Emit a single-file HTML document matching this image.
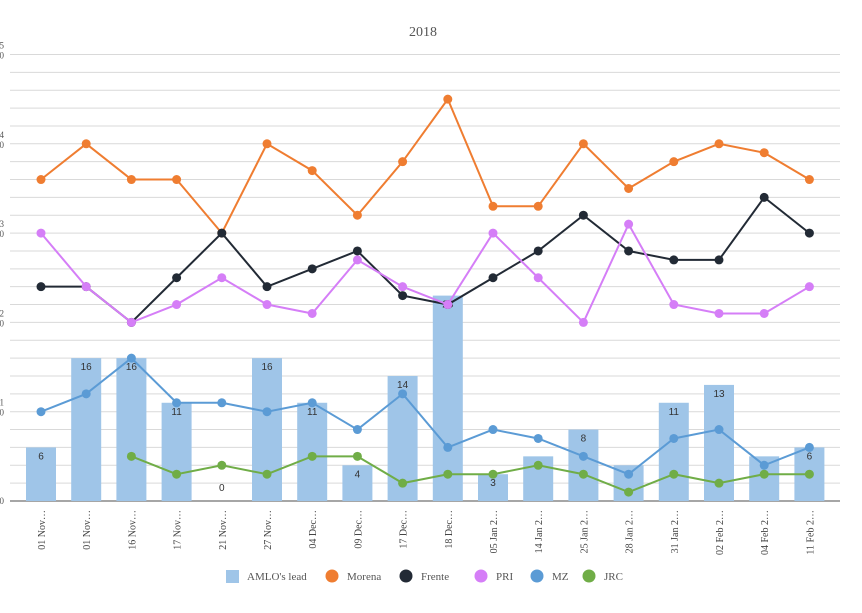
<!DOCTYPE html>
<html><head><meta charset="utf-8"><style>
body{margin:0;background:#fff;}
svg text{font-family:"Liberation Serif",serif;}
svg text.sans{font-family:"Liberation Sans",sans-serif;}
</style></head><body>
<svg id="chart" width="862" height="608" xmlns="http://www.w3.org/2000/svg">
<text x="423" y="36" text-anchor="middle" font-size="14" fill="#555">2018</text>
<g id="grid"></g><g id="bars"></g><g id="lines"></g><g id="xl"></g><g id="legend"></g>
</svg>
<script>
const categories=["01 Nov…","01 Nov…","16 Nov…","17 Nov…","21 Nov…","27 Nov…","04 Dec…","09 Dec…","17 Dec…","18 Dec…","05 Jan 2…","14 Jan 2…","25 Jan 2…","28 Jan 2…","31 Jan 2…","02 Feb 2…","04 Feb 2…","11 Feb 2…"];
const lead=[6,16,16,11,0,16,11,4,14,23,3,5,8,4,11,13,5,6];
const morena=[36,40,36,36,30,40,37,32,38,45,33,33,40,35,38,40,39,36];
const frente=[24,24,20,25,30,24,26,28,23,22,25,28,32,28,27,27,34,30];
const pri=[30,24,20,22,25,22,21,27,24,22,30,25,20,31,22,21,21,24];
const mz=[10,12,16,11,11,10,11,8,12,6,8,7,5,3,7,8,4,6];
const jrc=[null,null,5,3,4,3,5,5,2,3,3,4,3,1,3,2,3,3];
const yTicks=[0,10,20,30,40,50];
const NS="http://www.w3.org/2000/svg";
function mk(t,a,p){const e=document.createElementNS(NS,t);for(const k in a)e.setAttribute(k,a[k]);p.appendChild(e);return e;}
const y=v=>501-v*8.93;
const x=i=>41+i*45.2;
const grid=document.getElementById('grid');
for(let v=2;v<=50;v+=2){const l=mk('line',{x1:10,x2:840,y1:y(v),y2:y(v),stroke:'#d9d9d9','stroke-width':1},grid);

}
yTicks.forEach(v=>{const s=String(v);
if(s.length>1){const t1=mk('text',{x:4,y:y(v)-6,'font-size':9,fill:'#555','text-anchor':'end'},grid);t1.textContent=s[0];


const t2=mk('text',{x:4,y:y(v)+4,'font-size':9,fill:'#555','text-anchor':'end'},grid);t2.textContent=s.slice(1);

}
else{const t=mk('text',{x:4,y:y(v)+3,'font-size':9,fill:'#555','text-anchor':'end'},grid);t.textContent=s;

}});
const ax=mk('line',{x1:10,x2:840,y1:501,y2:501,stroke:'#888','stroke-width':1.5},grid);


const bars=document.getElementById('bars');
lead.forEach((v,i)=>{const r=mk('rect',{x:x(i)-15,y:y(v),width:30,height:501-y(v),fill:'#9fc5e8'},bars);


const t=mk('text',{class:'sans',x:x(i),y:v===0?y(v)-10:y(v)+12,'font-size':10,fill:'#333','text-anchor':'middle'},bars);t.textContent=v;

});
const lines=document.getElementById('lines');
[[morena,'#ef7d31','morena'],[frente,'#222a35','frente'],[pri,'#d57ef7','pri'],[mz,'#5b9bd5','mz'],[jrc,'#70ad47','jrc']].forEach(([d,c,n])=>{
let p='';d.forEach((v,i)=>{if(v!==null)p+=(p?'L':'M')+x(i)+' '+y(v);});
const pl=mk('path',{d:p,fill:'none',stroke:c,'stroke-width':2},lines);


d.forEach((v,i)=>{if(v===null)return;const ci=mk('circle',{cx:x(i),cy:y(v),r:4.5,fill:c},lines);

});});
const xl=document.getElementById('xl');
categories.forEach((c,i)=>{const t=mk('text',{transform:`translate(${x(i)+4},510) rotate(-90)`,'font-size':10,fill:'#444','text-anchor':'end'},xl);t.textContent=c;

});
const lg=document.getElementById('legend');
const items=[['AMLO\'s lead','#9fc5e8',232,true],['Morena','#ef7d31',332],['Frente','#222a35',406],['PRI','#d57ef7',481],['MZ','#5b9bd5',537],['JRC','#70ad47',589]];
items.forEach(([n,c,px,sq])=>{
const g=mk('g',{},lg);


if(sq)mk('rect',{x:px-6,y:570,width:13,height:13,fill:c},g);else mk('circle',{cx:px,cy:576,r:6.5,fill:c},g);
const t=mk('text',{x:px+15,y:580,'font-size':11,fill:'#555'},g);t.textContent=n;});
</script>
</body></html>
